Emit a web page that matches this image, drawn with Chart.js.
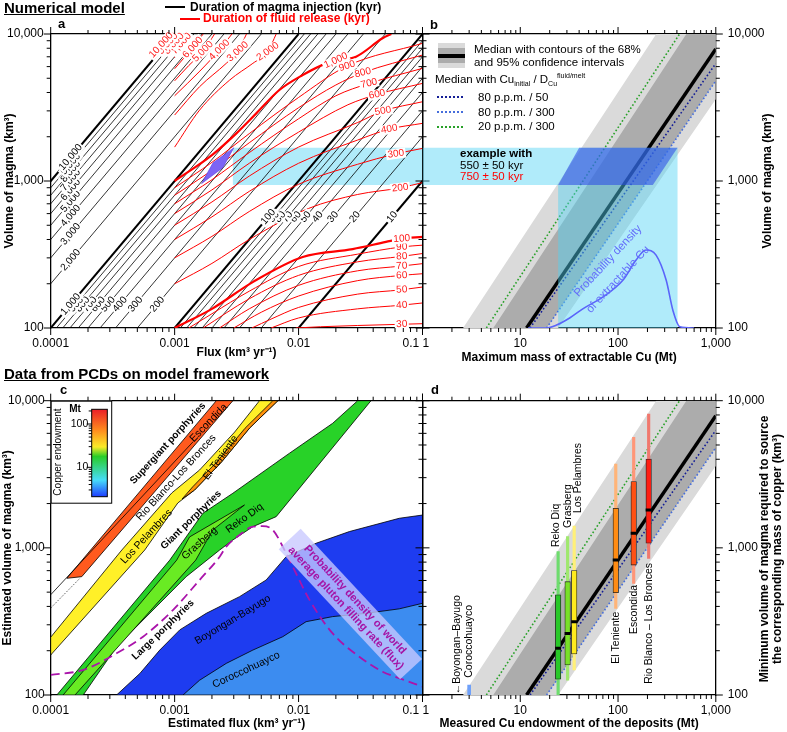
<!DOCTYPE html>
<html lang="en">
<head>
<meta charset="utf-8">
<title>Magma volume, flux and copper endowment</title>
<script src="https://cdn.jsdelivr.net/npm/chart.js@4.4.1/dist/chart.umd.min.js"></script>
<style>
  html, body { margin: 0; padding: 0; background: #fff; }
  body { position: relative; width: 787px; height: 732px; overflow: hidden; font-family: "Liberation Sans", Arial, sans-serif; color: #000; }
  canvas { position: absolute; left: 0; top: 0; }
  .abs { position: absolute; white-space: nowrap; line-height: 1; }
  .head { font-weight: bold; font-size: 15px; text-decoration: underline; left: 4px; }
  .tag { font-weight: bold; font-size: 13px; }
  .key { font-weight: bold; font-size: 12px; }
  .note { font-size: 11.5px; }
  .rule { position: absolute; height: 0; }
  sub, sup { font-size: 7px; line-height: 0; }
</style>
</head>
<body>
<canvas id="panelA" width="787" height="732"></canvas>
<canvas id="panelB" width="787" height="732"></canvas>
<canvas id="panelC" width="787" height="732"></canvas>
<canvas id="panelD" width="787" height="732"></canvas>

<div class="abs head" style="top:0px">Numerical model</div>
<div class="abs head" style="top:366px">Data from PCDs on model framework</div>

<div class="rule" style="left:165px;top:6px;width:20px;border-top:2px solid #000"></div>
<div class="abs key" style="left:190px;top:0.5px">Duration of magma injection (kyr)</div>
<div class="rule" style="left:180px;top:17.5px;width:20px;border-top:2px solid #f00"></div>
<div class="abs key" style="left:203px;top:12px;color:#f00">Duration of fluid release (kyr)</div>

<div class="abs tag" style="left:58px;top:17px">a</div>
<div class="abs tag" style="left:430px;top:18px">b</div>
<div class="abs tag" style="left:60px;top:383px">c</div>
<div class="abs tag" style="left:431px;top:383px">d</div>

<!-- panel b key -->
<div style="position:absolute;left:438px;top:43px;width:27px;height:25px;background:rgb(218,218,218)"></div>
<div style="position:absolute;left:438px;top:48px;width:27px;height:15px;background:rgb(172,172,172)"></div>
<div style="position:absolute;left:438px;top:54px;width:27px;height:4px;background:#000"></div>
<div class="abs note" style="left:474px;top:43.5px">Median with contours of the 68%</div>
<div class="abs note" style="left:474px;top:56.5px">and 95% confidence intervals</div>
<div class="abs note" style="left:435px;top:74px">Median with Cu<sub>initial</sub> / D<sub>Cu</sub><sup>fluid/melt</sup></div>
<div class="rule" style="left:437px;top:96px;width:26px;border-top:2px dotted rgb(20,30,150)"></div>
<div class="abs note" style="left:478px;top:91.5px">80 p.p.m. / 50</div>
<div class="rule" style="left:437px;top:111px;width:26px;border-top:2px dotted rgb(70,110,220)"></div>
<div class="abs note" style="left:478px;top:106.5px">80 p.p.m. / 300</div>
<div class="rule" style="left:437px;top:125.5px;width:26px;border-top:2px dotted rgb(40,160,40)"></div>
<div class="abs note" style="left:478px;top:121px">20 p.p.m. / 300</div>
<div class="abs" style="left:460px;top:148px;font-size:11.5px;font-weight:bold">example with</div>
<div class="abs" style="left:460px;top:159.5px;font-size:11.5px">550 ± 50 kyr</div>
<div class="abs" style="left:460px;top:170.5px;font-size:11.5px;color:#f00">750 ± 50 kyr</div>

<script>
// ---------- panel a: numerical model ----------
const fluxRange = [0.0001, 0.1];
const volumeRange = [100, 10000];
const cuRange = [1, 1000];

// durations of magma injection (black iso-lines, V = flux x duration)
const injectionKyr = [10, 20, 30, 40, 50, 60, 70, 80, 90, 100, 200, 300, 400, 500, 600, 700, 800, 900,
  1000, 2000, 3000, 4000, 5000, 6000, 7000, 8000, 9000, 10000];
const boldKyr = [10, 100, 1000, 10000];

// durations of fluid release (red curves), [flux, volume]
const releaseKyr = [30, 40, 50, 60, 70, 80, 90, 100, 200, 300, 400, 500, 600, 700, 800, 900, 1000,
  2000, 3000, 4000, 5000, 6000, 7000, 8000, 9000, 10000];
const releaseCurves = [
  [[0.0095, 100], [0.015, 102], [0.03, 104], [0.068, 106], [0.1, 107]],
  [[0.006, 100], [0.01, 117], [0.03, 135], [0.068, 143], [0.1, 148]],
  [[0.0042, 100], [0.006, 115], [0.01, 138], [0.03, 170], [0.068, 182], [0.1, 190]],
  [[0.003, 100], [0.005, 128], [0.01, 165], [0.03, 210], [0.068, 228], [0.1, 234]],
  [[0.0023, 100], [0.004, 135], [0.01, 195], [0.03, 245], [0.068, 264], [0.1, 274]],
  [[0.0017, 100], [0.004, 158], [0.01, 228], [0.03, 282], [0.068, 307], [0.1, 321]],
  [[0.0013, 100], [0.002, 125], [0.004, 178], [0.01, 262], [0.03, 318], [0.068, 356], [0.1, 366]],
  [[0.001, 100], [0.002, 135], [0.0043, 206], [0.0108, 304], [0.0273, 344], [0.0507, 385], [0.068, 405], [0.1, 417]],
  [[0.001, 200], [0.002, 275], [0.004, 400], [0.012, 650], [0.03, 810], [0.066, 898], [0.1, 975]],
  [[0.001, 300], [0.002, 420], [0.004, 620], [0.01, 950], [0.03, 1300], [0.061, 1530], [0.1, 1667]],
  [[0.001, 400], [0.002, 570], [0.004, 850], [0.01, 1320], [0.03, 1900], [0.054, 2254], [0.1, 2467]],
  [[0.001, 500], [0.002, 720], [0.004, 1080], [0.01, 1700], [0.03, 2500], [0.048, 2993], [0.1, 3461]],
  [[0.001, 600], [0.002, 870], [0.004, 1320], [0.01, 2150], [0.025, 3300], [0.043, 3881], [0.1, 4613]],
  [[0.001, 700], [0.002, 1020], [0.004, 1560], [0.01, 2650], [0.02, 3800], [0.037, 4613], [0.1, 5838]],
  [[0.001, 800], [0.002, 1180], [0.004, 1820], [0.01, 3150], [0.02, 4500], [0.033, 5455], [0.1, 7195]],
  [[0.001, 900], [0.002, 1340], [0.004, 2100], [0.01, 3700], [0.0246, 6053], [0.1, 8640]],
  [[0.001, 1000], [0.002, 1500], [0.00315, 2109], [0.00456, 2884], [0.007, 4159], [0.0108, 5259], [0.0167, 6312], [0.02, 6600], [0.0291, 7010], [0.0476, 9350], [0.056, 10000]],
  [[0.001, 1700], [0.00159, 3035], [0.00278, 4860], [0.00428, 6318], [0.00565, 7600], [0.0066, 10000]],
  [[0.001, 2810], [0.00159, 4380], [0.00261, 6318], [0.00323, 7600], [0.0038, 10000]],
  [[0.001, 3800], [0.0016, 5600], [0.0023, 7800], [0.0029, 10000]],
  [[0.001, 4800], [0.0013, 6100], [0.00169, 7600], [0.0021, 10000]],
  [[0.001, 5800], [0.0014, 8100], [0.0017, 10000]],
  [[0.001, 6900], [0.00113, 8600], [0.0013, 10000]],
  [[0.00093, 7700], [0.00099, 8600], [0.00112, 10000]],
  [[0.00083, 7700], [0.00088, 8600], [0.001, 10000]],
  [[0.00073, 7500], [0.00078, 8400], [0.0009, 10000]]
];
const boldReleaseKyr = [100, 1000];

// worked example: 550 +/- 50 kyr injection, 750 +/- 50 kyr release
const exampleFlux = [0.00295, 0.1];
const exampleVolume = [940, 1686];
const exampleOverlap = [[0.00165, 960], [0.00204, 1330], [0.003, 1680], [0.00245, 1233]];

// ---------- panel b: extractable Cu ----------
const cuMedian = [[11.6, 100], [1000, 7900]];
const cuBand68 = [[5.3, 100], [500, 10000], [1000, 10000], [1000, 4800], [18.6, 100]];
const cuBand95 = [[2.6, 100], [246, 10000], [1000, 10000], [1000, 3600], [24.4, 100]];
const cu80ppm50 = [[12.6, 100], [1000, 6300]];
const cu80ppm300 = [[18.6, 100], [1000, 4800]];
const cu20ppm300 = [[4.5, 100], [426, 10000]];
const cuDensity = [[12, 100], [18.6, 100], [23.5, 104.7], [32, 117], [43.6, 135], [69.6, 162], [112, 211],
  [153, 290], [193, 339], [245, 313], [311, 211], [365, 131], [428, 102], [600, 100]];
const exampleCu = [24.4, 406];
const exampleCuOverlap = [[24.4, 940], [40, 1686], [406, 1686], [227, 940]];

// ---------- panel c: deposits on the model framework ----------
const escondidaBand = [[0.000135, 621], [0.00217, 10000], [0.00295, 10000], [0.000178, 637]];
const rioBlancoTrace = [[0.0001, 480], [0.00141, 5264]];
const rioBlancoTail = [[0.0001, 390], [0.000172, 621]];
const losPelambresBand = [[0.0001, 247], [0.000375, 967], [0.000948, 2360], [0.00159, 3381], [0.00305, 6124],
  [0.00484, 10000], [0.00681, 10000], [0.00403, 6521], [0.00239, 3832], [0.00145, 2473], [0.00106, 2017],
  [0.000574, 967], [0.0001, 187]];
const elTenienteBand = [[0.00115, 2150], [0.00145, 2473], [0.00239, 3832], [0.00403, 6521], [0.00681, 10000],
  [0.0062, 10000], [0.0037, 6500], [0.0022, 3850], [0.0014, 2600]];
const giantBand = [[0.000112, 100], [0.000914, 826], [0.00169, 1718], [0.00295, 2350], [0.00845, 4397],
  [0.01884, 7020], [0.03, 10000], [0.0384, 10000], [0.0066, 1630], [0.00428, 1393], [0.00295, 1131],
  [0.00231, 967], [0.00124, 637], [0.00034, 213], [0.000183, 100]];
const grasbergBand = [[0.000126, 100], [0.00104, 826], [0.00132, 1186], [0.00366, 1955], [0.00203, 1322],
  [0.00148, 826], [0.000157, 100]];
const boyonganBand = [[0.00034, 100], [0.000524, 140], [0.000759, 202], [0.0011, 277], [0.0018, 359],
  [0.00334, 466], [0.00548, 605], [0.00794, 871], [0.01387, 1075], [0.0257, 1290], [0.0649, 1588],
  [0.1, 1671], [0.1, 100]];
const coroccohuaycoBand = [[0.00117, 100], [0.00159, 126], [0.00261, 164], [0.00428, 202], [0.00746, 249],
  [0.0115, 315], [0.01884, 341], [0.035, 359], [0.0649, 385], [0.1, 420], [0.1, 100]];
const plutonDensity = [[0.0001, 137], [0.000183, 148], [0.00034, 192], [0.000556, 249], [0.000969, 378],
  [0.00159, 605], [0.00231, 871], [0.00261, 1019], [0.00334, 1222], [0.00428, 1393], [0.0051, 1404],
  [0.0062, 1322], [0.00794, 919], [0.00898, 745], [0.01225, 443], [0.01884, 262], [0.0309, 182],
  [0.0476, 144], [0.0649, 130], [0.1, 114]];

// ---------- panel d: measured endowment ----------
const depositNames = ['Reko Diq', 'Grasberg', 'Los Pelambres', 'El Teniente', 'Escondida', 'Rio Blanco – Los Bronces'];
const depositCu = [24.4, 30.5, 35.6, 94.8, 144.6, 205.7];
const volumeLow = [100, 126, 148, 388, 574, 849];
const volumeQ1 = [128, 160, 190, 495, 764, 1075];
const volumeMedian = [208, 262, 315, 826, 1256, 1808];
const volumeQ3 = [479, 589, 700, 1857, 2818, 4018];
const volumeHigh = [942, 1192, 1406, 3716, 5637, 8120];
const smallDeposits = ['Boyongan–Bayugo', 'Coroccohuayco'];
const smallCu = [2.24, 3.0];
const coroccohuaycoVolume = [100, 117];

// ---------- helpers ----------
const W = 787, H = 732, NB = '\u00a0';
const RED = '#ff1a1a';
const CYAN = 'rgba(80,210,245,0.45)';
const FONT = '"Liberation Sans", Arial, sans-serif';

Chart.defaults.font.family = FONT;
Chart.defaults.font.size = 12;
Chart.defaults.color = '#000';

function fmt(v) { return v >= 1 ? v.toLocaleString('en-US') : String(v); }
function decades(min, max) {
  const out = [];
  for (let v = min; v <= max * 1.0001; v *= 10) out.push(+v.toPrecision(6));
  return out;
}
function logMarks(min, max) {
  const out = [];
  for (let e = Math.floor(Math.log10(min)); e <= Math.ceil(Math.log10(max)); e++) {
    for (let k = 1; k < 10; k++) {
      const v = k * Math.pow(10, e);
      if (v >= min * 0.9999 && v <= max * 1.0001) out.push(v);
    }
  }
  return out;
}

function axis(position, range, o = {}) {
  const vertical = position === 'left' || position === 'right';
  return {
    type: 'logarithmic', position, min: range[0], max: range[1], z: 1,
    stacked: o.stacked,
    grid: { display: false, drawTicks: false },
    border: { display: true, color: '#000', width: 1.3 },
    ticks: {
      display: !!o.labels, autoSkip: false, maxRotation: 0, minRotation: 0,
      padding: o.pad ?? 8, color: '#000', font: { size: 12 },
      callback: v => (o.rename && o.rename[v]) || fmt(v)
    },
    title: o.title
      ? { display: true, text: o.title, color: '#000', font: { size: 12, weight: 'bold' }, padding: o.titlePad }
      : { display: false },
    afterBuildTicks: s => { s.ticks = decades(range[0], range[1]).map(value => ({ value })); },
    afterFit: s => {
      if (vertical) s.width = o.size; else s.height = o.size;
      s.paddingLeft = s.paddingRight = s.paddingTop = s.paddingBottom = 0;
    }
  };
}

function framePadding(L, T, R, B, sz) {
  return { left: L - sz.left, top: T - sz.top, right: W - R - sz.right, bottom: H - B - sz.bottom };
}

const pts = a => a.map(([x, y]) => ({ x, y }));
function curve(a, color, width, extra) {
  return Object.assign({
    type: 'scatter', data: pts(a), showLine: true, borderColor: color, borderWidth: width,
    pointRadius: 0, fill: false, tension: 0
  }, extra || {});
}
function patch(a, color, edge, edgeWidth) {
  return curve(a.concat([a[0]]), edge || 'rgba(0,0,0,0)', edgeWidth || 0, { fill: 'shape', backgroundColor: color });
}
function ordered(list) { list.forEach((d, i) => { d.order = -i; }); return list; }

// outward tick marks, long at decades
Chart.register({
  id: 'tickMarks',
  afterDraw(chart) {
    const ctx = chart.ctx;
    ctx.save();
    ctx.strokeStyle = '#000';
    ctx.lineWidth = 1;
    for (const s of Object.values(chart.scales)) {
      for (const v of logMarks(s.min, s.max)) {
        const lg = Math.log10(v);
        const len = Math.abs(lg - Math.round(lg)) < 1e-9 ? 7 : 4;
        const p = s.getPixelForValue(v);
        ctx.beginPath();
        if (s.options.position === 'bottom') { ctx.moveTo(p, s.top); ctx.lineTo(p, s.top + len); }
        else if (s.options.position === 'top') { ctx.moveTo(p, s.bottom); ctx.lineTo(p, s.bottom - len); }
        else if (s.options.position === 'left') { ctx.moveTo(s.right, p); ctx.lineTo(s.right - len, p); }
        else { ctx.moveTo(s.left, p); ctx.lineTo(s.left + len, p); }
        ctx.stroke();
      }
    }
    ctx.restore();
  }
});

// text placed in data space (at) or page pixels (px)
function textLayer(id, items) {
  return {
    id,
    afterDatasetsDraw(chart) {
      const { ctx, scales } = chart;
      for (const t of items) {
        const x = t.px ? t.px[0] : scales.x.getPixelForValue(t.at[0]);
        const y = t.px ? t.px[1] : scales.y.getPixelForValue(t.at[1]);
        ctx.save();
        ctx.translate(x + (t.dx || 0), y + (t.dy || 0));
        ctx.rotate((t.rot || 0) * Math.PI / 180);
        if (t.box) { ctx.fillStyle = t.box; ctx.fillRect(-t.w / 2, -t.h / 2, t.w, t.h); }
        ctx.font = t.font || ('10px ' + FONT);
        ctx.textAlign = t.align || 'center';
        ctx.textBaseline = 'middle';
        const lines = [].concat(t.text);
        const lh = t.lh || 12;
        lines.forEach((s, i) => {
          const yy = (i - (lines.length - 1) / 2) * lh;
          if (t.bg) {
            const w = ctx.measureText(s).width;
            const left = ctx.textAlign === 'center' ? -w / 2 : ctx.textAlign === 'right' ? -w : 0;
            ctx.fillStyle = t.bg;
            ctx.fillRect(left - 1.5, yy - 5, w + 3, 10);
          }
          ctx.fillStyle = t.color || '#000';
          ctx.fillText(s, 0, yy);
        });
        ctx.restore();
      }
    }
  };
}

const baseOptions = {
  responsive: false, animation: false, devicePixelRatio: 1,
  plugins: { legend: { display: false }, tooltip: { enabled: false } }
};

// ---------- panel a ----------
const injectionLines = injectionKyr.map(d => curve(
  [[volumeRange[0] / (d * 1000), volumeRange[0]], [volumeRange[1] / (d * 1000), volumeRange[1]]],
  '#000', boldKyr.includes(d) ? 2 : 0.8));
const releaseLines = releaseCurves.map((c, i) => curve(c, '#ff0000',
  boldReleaseKyr.includes(releaseKyr[i]) ? 2.2 : 1, { cubicInterpolationMode: 'monotone' }));

const injectionLabelAt = injectionKyr.map(d => d >= 2000 ? [0.000145, d * 0.145]
  : (d >= 200 ? [0.145 / d, 145] : [0.57 / d, 570]));
const releaseLabelAt = [[0.068, 106], [0.068, 143], [0.068, 182], [0.068, 228], [0.068, 264], [0.068, 307],
  [0.068, 356], [0.068, 405], [0.066, 898], [0.061, 1530], [0.054, 2254], [0.048, 2993], [0.043, 3881],
  [0.037, 4613], [0.033, 5455], [0.0246, 6053], [0.02, 6600], [0.00565, 7600], [0.00323, 7600],
  [0.0023, 7800], [0.00169, 7600], [0.0014, 8100], [0.00113, 8600], [0.00099, 8600], [0.00088, 8600],
  [0.00078, 8400]];
const releaseLabelTilt = [-3, -3, -3, -3, -3, -3, -3, -4, -7, -8, -10, -11, -12, -13, -14, -18, -25,
  -35, -42, -45, -45, -48, -48, -48, -48, -48];

const itemsA = [].concat(
  injectionKyr.map((d, i) => ({ at: injectionLabelAt[i], text: fmt(d), rot: -49.8, bg: '#fff' })),
  releaseKyr.map((d, i) => ({ at: releaseLabelAt[i], text: fmt(d), rot: releaseLabelTilt[i], bg: '#fff', color: RED }))
);

new Chart(document.getElementById('panelA'), {
  type: 'scatter',
  data: {
    datasets: ordered([
      patch([[exampleFlux[0], exampleVolume[0]], [exampleFlux[1], exampleVolume[0]],
        [exampleFlux[1], exampleVolume[1]], [exampleFlux[0], exampleVolume[1]]], CYAN),
      ...injectionLines,
      ...releaseLines,
      patch(exampleOverlap, 'rgb(125,100,245)', 'rgb(90,60,220)', 0.6)
    ])
  },
  options: Object.assign({}, baseOptions, {
    layout: { padding: framePadding(50.7, 34, 422.5, 328, { left: 50.7, top: 1, right: 1, bottom: 40 }) },
    scales: {
      x: axis('bottom', fluxRange, { labels: true, size: 40, rename: { 0.1: '0.1' + NB.repeat(7) },
        title: 'Flux (km³ yr⁻¹)', titlePad: { top: 0, bottom: 8.1 } }),
      xt: axis('top', fluxRange, { size: 1 }),
      y: axis('left', volumeRange, { labels: true, size: 50.7, pad: 7,
        title: 'Volume of magma (km³)', titlePad: { top: 2.8, bottom: 0 } }),
      yr: axis('right', volumeRange, { size: 1 })
    }
  }),
  plugins: [textLayer('labelsA', itemsA)]
});

// ---------- panel b ----------
const dotted = { borderDash: [1.6, 2.2] };
const itemsB = [
  { at: [79, 286], text: 'Probability density', rot: -47, color: 'rgb(100,110,250)', font: '11.5px ' + FONT },
  { at: [100, 214], text: 'of extractable Cu', rot: -47, color: 'rgb(100,110,250)', font: '11.5px ' + FONT },
  { px: [768, 181], text: 'Volume of magma (km³)', rot: -90, font: 'bold 12px ' + FONT }
];
new Chart(document.getElementById('panelB'), {
  type: 'scatter',
  data: {
    datasets: ordered([
      patch(cuBand95, 'rgb(218,218,218)'),
      patch(cuBand68, 'rgb(172,172,172)'),
      curve(cu20ppm300, 'rgb(40,160,40)', 1.6, dotted),
      curve(cuMedian, '#000', 3.5),
      curve(cu80ppm50, 'rgb(20,30,150)', 1.6, dotted),
      curve(cu80ppm300, 'rgb(70,110,220)', 1.6, dotted),
      patch([[cuRange[0], exampleVolume[0]], [exampleCu[0], exampleVolume[0]], [exampleCu[0], volumeRange[0]],
        [exampleCu[1], volumeRange[0]], [exampleCu[1], exampleVolume[1]], [cuRange[0], exampleVolume[1]]], CYAN),
      patch(exampleCuOverlap, 'rgba(40,70,230,0.55)'),
      curve(cuDensity, 'rgb(90,100,250)', 1.6, { cubicInterpolationMode: 'monotone' })
    ])
  },
  options: Object.assign({}, baseOptions, {
    layout: { padding: framePadding(422.5, 34, 715.8, 328, { left: 1, top: 1, right: 50, bottom: 40 }) },
    scales: {
      x: axis('bottom', cuRange, { labels: true, size: 40, rename: { 1: NB + NB + '1' },
        title: 'Maximum mass of extractable Cu (Mt)', titlePad: { top: 0, bottom: 3.5 } }),
      xt: axis('top', cuRange, { size: 1 }),
      y: axis('left', volumeRange, { size: 1 }),
      yr: axis('right', volumeRange, { labels: true, size: 50, pad: 12 })
    }
  }),
  plugins: [textLayer('labelsB', itemsB)]
});

// ---------- panel c ----------
const endowmentBar = {
  id: 'endowmentBar',
  afterDatasetsDraw(chart) {
    const { ctx, chartArea: ca } = chart;
    const x0 = ca.left, y0 = ca.top;
    ctx.save();
    ctx.fillStyle = '#fff';
    ctx.fillRect(x0, y0, 61, 102.6);
    ctx.strokeStyle = '#000';
    ctx.lineWidth = 1;
    ctx.strokeRect(x0 + 0.5, y0 + 0.5, 60.5, 102);
    const bx = x0 + 41, by = y0 + 8.6, bw = 15.6, bh = 87.4;
    const g = ctx.createLinearGradient(0, by + bh, 0, by);
    g.addColorStop(0, 'rgb(30,60,255)');
    g.addColorStop(0.19, 'rgb(70,220,250)');
    g.addColorStop(0.46, 'rgb(40,205,40)');
    g.addColorStop(0.57, 'rgb(250,235,40)');
    g.addColorStop(0.76, 'rgb(255,140,30)');
    g.addColorStop(1, 'rgb(235,30,40)');
    ctx.fillStyle = g;
    ctx.fillRect(bx, by, bw, bh);
    ctx.strokeRect(bx, by, bw, bh);
    const y10 = y0 + 66.6, dec = 43.3;
    for (const v of [3, 4, 5, 6, 7, 8, 9, 10, 20, 30, 40, 50, 60, 70, 80, 90, 100, 200]) {
      const yy = y10 - Math.log10(v / 10) * dec;
      const len = (v === 10 || v === 100) ? 5 : 3;
      ctx.beginPath(); ctx.moveTo(bx, yy); ctx.lineTo(bx - len, yy); ctx.stroke();
    }
    ctx.fillStyle = '#000';
    ctx.textBaseline = 'middle';
    ctx.textAlign = 'center';
    ctx.font = 'bold 10px ' + FONT;
    ctx.fillText('Mt', x0 + 24.3, y0 + 9);
    ctx.textAlign = 'right';
    ctx.font = '10.5px ' + FONT;
    ctx.fillText('100', x0 + 37.6, y10 - dec);
    ctx.fillText('10', x0 + 37.6, y10);
    ctx.translate(x0 + 8, y0 + 51.3);
    ctx.rotate(-Math.PI / 2);
    ctx.textAlign = 'center';
    ctx.font = '10px ' + FONT;
    ctx.fillText('Copper endowment', 0, 0);
    ctx.restore();
  }
};
const bold10 = 'bold 10px ' + FONT, plain = '10.5px ' + FONT;
const itemsC = [
  { at: [0.000885, 5131], text: 'Supergiant porphyries', rot: -47.6, font: bold10 },
  { at: [0.00188, 7060], text: 'Escondida', rot: -46, font: plain },
  { at: [0.00103, 3000], text: 'Rio Blanco-Los Bronces', rot: -47.5, font: plain },
  { at: [0.00235, 4100], text: 'El Teniente', rot: -54, font: plain },
  { at: [0.000593, 1192], text: 'Los Pelambres', rot: -47, font: plain },
  { at: [0.00136, 1546], text: 'Giant porphyries', rot: -44, font: bold10 },
  { at: [0.00159, 1075], text: 'Grasberg', rot: -42, font: plain },
  { at: [0.00366, 1588], text: 'Reko Diq', rot: -36, font: plain },
  { at: [0.000807, 277], text: 'Large porphyries', rot: -44, font: bold10 },
  { at: [0.00295, 324], text: 'Boyongan-Bayugo', rot: -31, font: plain },
  { at: [0.00378, 148], text: 'Coroccohuayco', rot: -25, font: plain },
  { at: [0.0262, 415], rot: 47, box: 'rgba(200,200,255,0.78)', w: 178, h: 30, lh: 12.5,
    text: ['Probability density of world', 'average pluton filling rate (flux)'],
    color: 'rgb(165,20,165)', font: 'bold 11px ' + FONT }
];
const edge = '#000';
new Chart(document.getElementById('panelC'), {
  type: 'scatter',
  data: {
    datasets: ordered([
      patch(giantBand, 'rgb(40,210,40)', edge, 0.8),
      patch(grasbergBand, 'rgb(105,235,35)', edge, 0.8),
      patch(losPelambresBand, 'rgb(255,240,40)', edge, 0.8),
      patch(elTenienteBand, 'rgb(255,145,10)', edge, 0.8),
      patch(escondidaBand, 'rgb(255,90,30)', edge, 0.8),
      curve(rioBlancoTrace, '#000', 0.8),
      curve(rioBlancoTail, '#000', 0.8, { borderDash: [1, 1.5] }),
      patch(boyonganBand, 'rgb(30,60,240)', edge, 0.8),
      patch(coroccohuaycoBand, 'rgb(60,140,240)', edge, 0.8),
      curve(plutonDensity, 'rgb(170,20,170)', 1.8, { borderDash: [9, 5], cubicInterpolationMode: 'monotone' })
    ])
  },
  options: Object.assign({}, baseOptions, {
    layout: { padding: framePadding(50.7, 400.7, 422.5, 695, { left: 50.7, top: 1, right: 1, bottom: 36 }) },
    scales: {
      x: axis('bottom', fluxRange, { labels: true, size: 36, rename: { 0.1: '0.1' + NB.repeat(7) },
        title: 'Estimated flux (km³ yr⁻¹)', titlePad: { top: 0, bottom: 0.5 } }),
      xt: axis('top', fluxRange, { size: 1 }),
      y: axis('left', volumeRange, { labels: true, size: 50.7, pad: 6,
        title: 'Estimated volume of magma (km³)', titlePad: { top: 0.3, bottom: 0 } }),
      yr: axis('right', volumeRange, { size: 1 })
    }
  }),
  plugins: [textLayer('labelsC', itemsC), endowmentBar]
});

// ---------- panel d ----------
const boxColors = ['rgb(40,200,40)', 'rgb(120,225,40)', 'rgb(255,235,30)', 'rgb(255,140,20)', 'rgb(255,80,20)', 'rgb(255,30,20)'];
const whiskerColors = ['rgb(110,220,110)', 'rgb(160,232,110)', 'rgb(255,240,120)', 'rgb(255,180,120)', 'rgb(255,150,120)', 'rgb(240,120,110)'];
const depositLabelAt = [[24.4, 1014], [30.5, 1366], [35.6, 1725], [94.8, 368], [144.6, 560], [205.7, 789]];
const depositLabelAlign = ['left', 'left', 'left', 'right', 'right', 'right'];
const depositLabelShift = [-2, 0.5, 4, 0, 0, 0];
const itemsD = [].concat(
  depositNames.map((n, i) => ({ at: depositLabelAt[i], text: n, rot: -90, align: depositLabelAlign[i],
    dx: depositLabelShift[i], font: plain })),
  [
    { at: [smallCu[0], 101], text: '←' + smallDeposits[0], rot: -90, align: 'left', font: plain },
    { at: [smallCu[1], 131], text: smallDeposits[1], rot: -90, align: 'left', font: plain },
    { px: [765, 549], text: 'Minimum volume of magma required to source', rot: -90, font: 'bold 12px ' + FONT },
    { px: [778, 549], text: 'the corresponding mass of copper (km³)', rot: -90, font: 'bold 12px ' + FONT }
  ]
);
new Chart(document.getElementById('panelD'), {
  type: 'scatter',
  data: {
    datasets: ordered([
      patch(cuBand95, 'rgb(218,218,218)'),
      patch(cuBand68, 'rgb(172,172,172)'),
      curve(cu20ppm300, 'rgb(40,160,40)', 1.6, dotted),
      curve(cu80ppm50, 'rgb(20,30,150)', 1.6, dotted),
      curve(cu80ppm300, 'rgb(70,110,220)', 1.6, dotted),
      curve(cuMedian, '#000', 3.5),
      { type: 'bar', stack: 'deposits', barThickness: 2.5, borderWidth: 0, backgroundColor: whiskerColors,
        data: depositCu.map((x, i) => ({ x, y: [volumeLow[i], volumeHigh[i]] })) },
      { type: 'bar', stack: 'deposits', barThickness: 5.5, borderWidth: 0.8, borderColor: '#222',
        borderSkipped: false, backgroundColor: boxColors,
        data: depositCu.map((x, i) => ({ x, y: [volumeQ1[i], volumeQ3[i]] })) },
      { type: 'bar', stack: 'deposits', barThickness: 3, borderWidth: 0, backgroundColor: 'rgb(110,160,250)',
        data: [{ x: smallCu[1], y: coroccohuaycoVolume }] },
      { type: 'scatter', pointStyle: 'line', pointRadius: 3, pointBorderWidth: 3, pointBorderColor: '#000',
        data: depositCu.map((x, i) => ({ x, y: volumeMedian[i] })) }
    ])
  },
  options: Object.assign({}, baseOptions, {
    layout: { padding: framePadding(422.5, 400.7, 715.8, 695, { left: 1, top: 1, right: 50, bottom: 36 }) },
    scales: {
      x: axis('bottom', cuRange, { labels: true, size: 36, rename: { 1: NB + NB + '1' },
        title: 'Measured Cu endowment of the deposits (Mt)', titlePad: { top: 0, bottom: 0.5 } }),
      xt: axis('top', cuRange, { size: 1 }),
      y: axis('left', volumeRange, { size: 1, stacked: false }),
      yr: axis('right', volumeRange, { labels: true, size: 50, pad: 12 })
    }
  }),
  plugins: [textLayer('labelsD', itemsD)]
});
</script>
</body>
</html>
